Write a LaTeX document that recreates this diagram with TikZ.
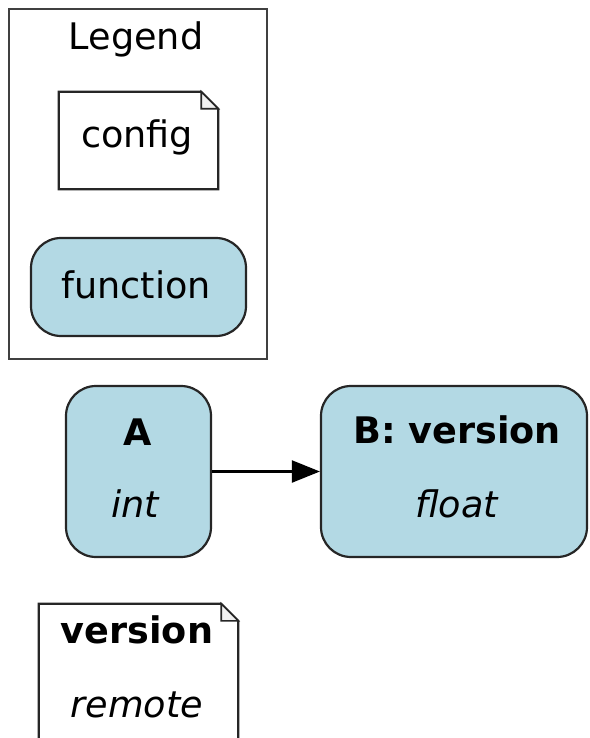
\documentclass[tikz,border=0pt]{standalone}
\usepackage{fontspec}
\setmainfont{DejaVu Sans}
\usetikzlibrary{arrows.meta}
\definecolor{lblue}{HTML}{B3D9E4}
\tikzset{
  fnbox/.style={draw=black!85, line width=2.2pt, fill=lblue, rounded corners=30pt, inner sep=0pt},
  notebox/.style={draw=none, inner sep=0pt},
  txt/.style={anchor=base, inner sep=0pt, font=\fontsize{36.6}{40}\selectfont},
  legendbox/.style={draw=black!75, line width=2.4pt, inner sep=0pt},
  edge/.style={line width=2.2pt, -{Triangle[length=28pt,width=22pt]}},
}
\newcommand{\notepath}[1]{%
  \draw[line width=2.2pt, draw=black!85, fill=white] (#1.south west) -- (#1.north west) -- ([xshift=-17pt]#1.north east) -- ([yshift=-17pt]#1.north east) -- (#1.south east) -- cycle;
  \draw[line width=1.6pt, draw=black!85, fill=black!6] ([xshift=-17pt]#1.north east) -- ([xshift=-17pt,yshift=-17pt]#1.north east) -- ([yshift=-17pt]#1.north east) -- cycle;
}
\begin{document}
\begin{tikzpicture}[x=1pt,y=-1pt]
\useasboundingbox (0,0) rectangle (589,738);
% legend cluster
\node[legendbox, minimum width=258pt, minimum height=350pt] (legend) at (138,184) {};
\node[txt] (legendlbl) at (136,50) {Legend};
% config note
\node[notebox, minimum width=159pt, minimum height=97pt] (config) at (138.5,140.5) {};
\notepath{config}
\node[txt] (configlbl) at (137,148) {config};
% function
\node[fnbox, minimum width=215pt, minimum height=98pt] (function) at (138.5,287) {};
\node[txt] (functionlbl) at (136,298) {function};
% A
\node[fnbox, minimum width=145pt, minimum height=171pt] (A) at (138.5,471.5) {};
\node[txt] (Atitle) at (138,445) {\textbf{A}};
\node[txt] (Atype) at (136,517) {\textit{int}};
% B
\node[fnbox, minimum width=266pt, minimum height=171pt] (B) at (454,471.5) {};
\node[txt] (Btitle) at (457,443) {\textbf{B: version}};
\node[txt] (Btype) at (457,517) {\textit{float}};
% edge
\draw[edge] (A.east) -- (B.west);
% version note
\node[notebox, minimum width=199pt, minimum height=160pt] (version) at (138.5,684) {};
\notepath{version}
\node[txt] (versiontitle) at (137,643) {\textbf{version}};
\node[txt] (versiontype) at (137,717) {\textit{remote}};
\end{tikzpicture}
\end{document}
